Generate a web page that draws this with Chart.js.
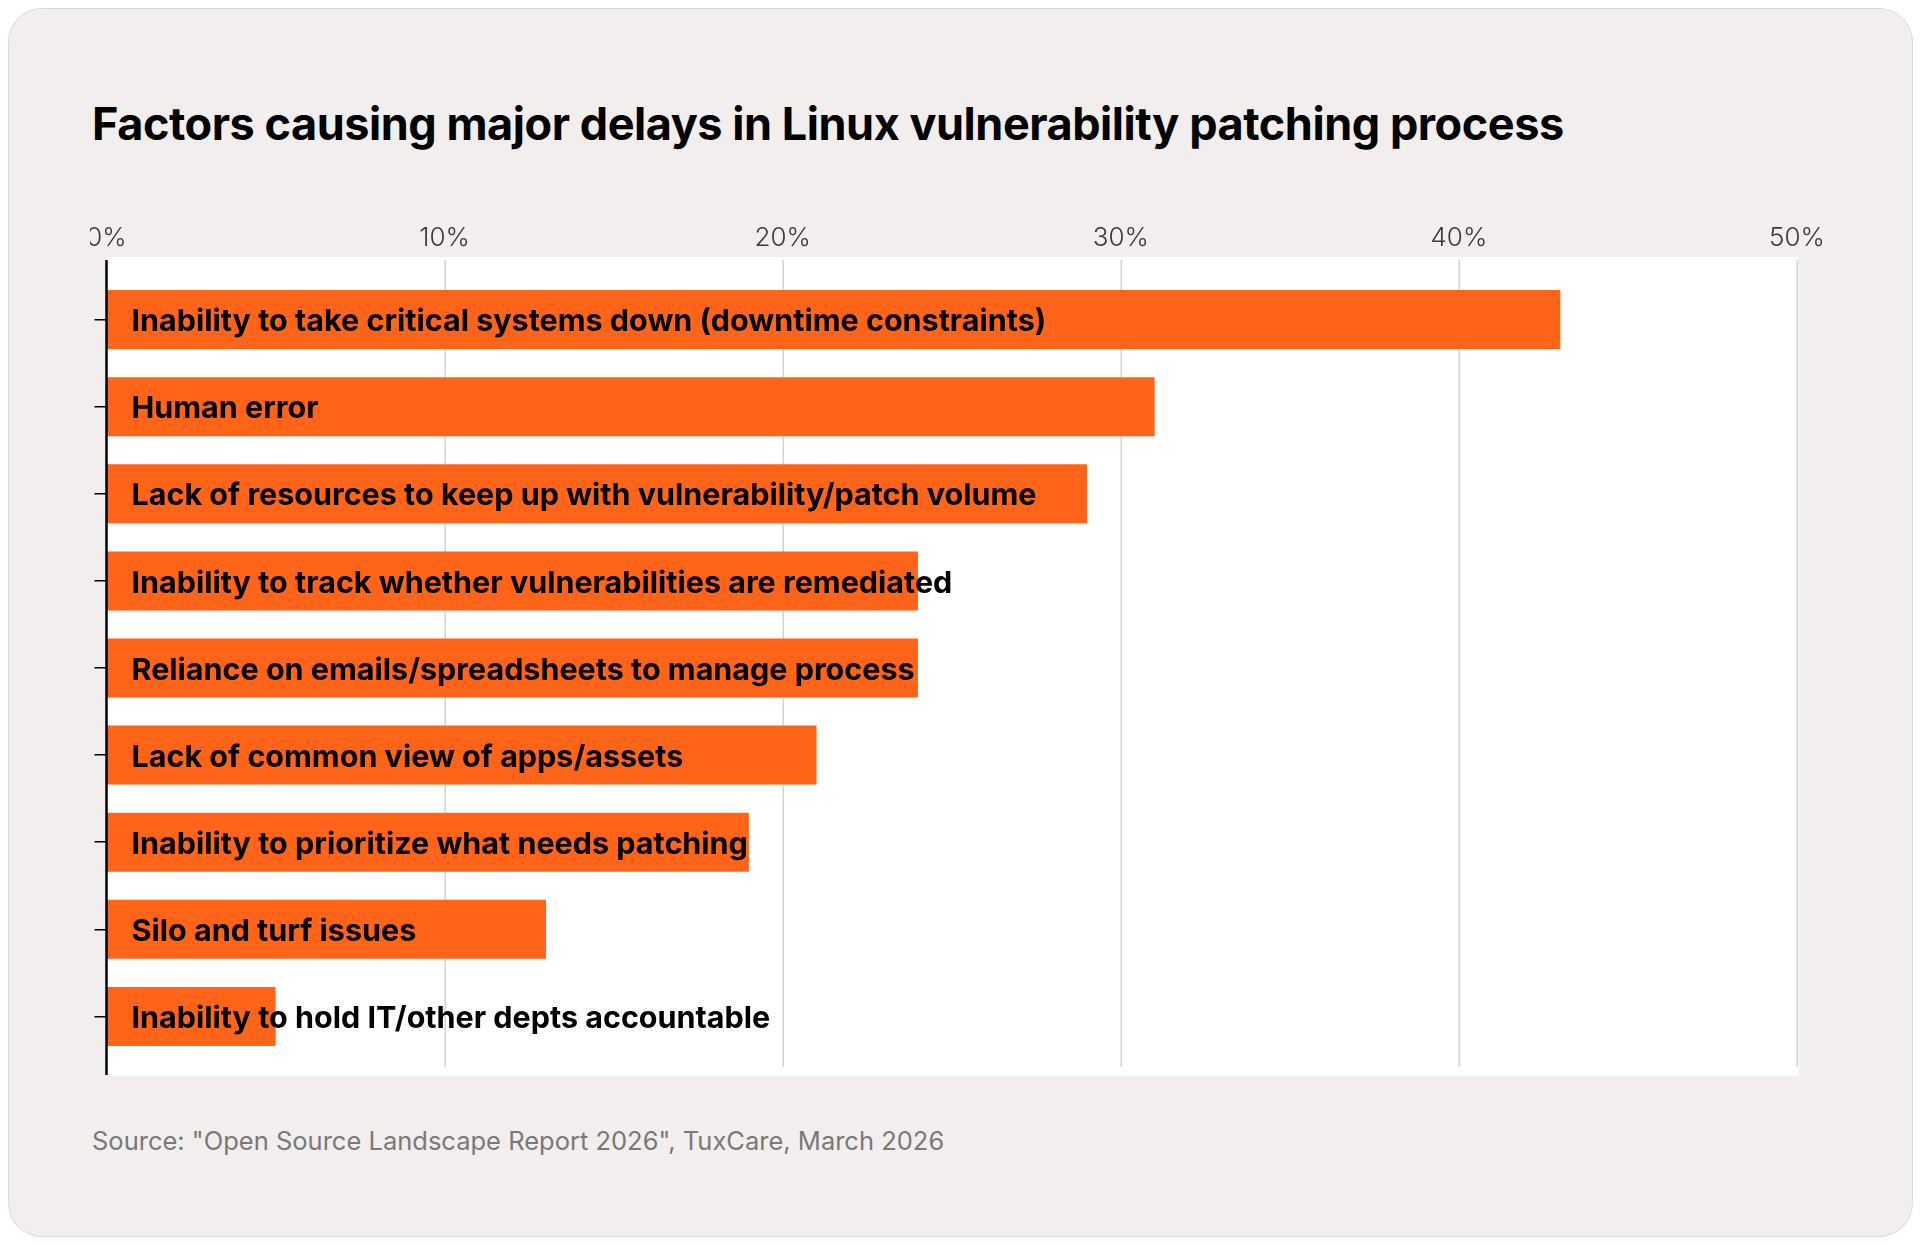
<!DOCTYPE html>
<html>
<head>
<meta charset="utf-8">
<script src="https://cdn.jsdelivr.net/npm/chart.js@4.4.1/dist/chart.umd.min.js"></script>
<style>
  html, body { margin: 0; padding: 0; background: #ffffff; width: 1922px; height: 1246px; overflow: hidden; }
  #card { position: absolute; left: 8px; top: 8px; width: 1905px; height: 1229px; box-sizing: border-box;
          background: #f1eeed; border: 1.5px solid #dcd9d9; border-radius: 34px; }
  #title { position: absolute; left: 92px; top: 101px; margin: 0; font: 700 45px Inter, sans-serif; line-height: 45px;
           color: #000; letter-spacing: -0.45px; white-space: nowrap; }
  #wrap { position: absolute; left: 90px; top: 200px; width: 1760px; height: 900px; }
  #source { position: absolute; left: 92px; top: 1128px; font: 400 25.5px Inter, sans-serif; line-height: 25.5px;
            color: #7a7878; white-space: nowrap; }
</style>
</head>
<body>
<div id="card"></div>
<h1 id="title">Factors causing major delays in Linux vulnerability patching process</h1>
<div id="wrap"><canvas id="c" width="1760" height="900"></canvas></div>
<div id="source">Source: "Open Source Landscape Report 2026", TuxCare, March 2026</div>
<script>
const categories = [
  "Inability to take critical systems down (downtime constraints)",
  "Human error",
  "Lack of resources to keep up with vulnerability/patch volume",
  "Inability to track whether vulnerabilities are remediated",
  "Reliance on emails/spreadsheets to manage process",
  "Lack of common view of apps/assets",
  "Inability to prioritize what needs patching",
  "Silo and turf issues",
  "Inability to hold IT/other depts accountable"
];
const values = [43, 31, 29, 24, 24, 21, 19, 13, 5];
const tickValues = [0, 10, 20, 30, 40, 50];
const tickLabels = ["0%", "10%", "20%", "30%", "40%", "50%"];

const framePlugin = {
  id: 'frame',
  beforeDraw(chart) {
    const { ctx, chartArea: a, scales: { x } } = chart;
    const left = x.getPixelForValue(tickValues[0]);
    const right = x.getPixelForValue(tickValues[tickValues.length - 1]);
    ctx.save();
    ctx.fillStyle = '#ffffff';
    ctx.fillRect(left, a.top - 19, right - left + 1.5, (a.bottom - a.top) + 35);
    ctx.strokeStyle = '#d5d4d4';
    ctx.lineWidth = 1.5;
    tickValues.slice(1).forEach(v => {
      const px = Math.round(x.getPixelForValue(v)) + 0.25;
      ctx.beginPath();
      ctx.moveTo(px, a.top - 16);
      ctx.lineTo(px, a.bottom + 7);
      ctx.stroke();
    });
    ctx.restore();
  },
  afterDatasetsDraw(chart) {
    const { ctx, chartArea: a, scales: { x, y } } = chart;
    const x0 = x.getPixelForValue(0);
    ctx.save();
    ctx.strokeStyle = '#000';
    ctx.lineWidth = 2.5;
    ctx.beginPath();
    ctx.moveTo(x0, a.top - 16);
    ctx.lineTo(x0, a.bottom + 15);
    ctx.stroke();
    ctx.fillStyle = '#000';
    ctx.font = '700 30.5px Inter, sans-serif';
    ctx.textBaseline = 'middle';
    ctx.textAlign = 'left';
    categories.forEach((lab, i) => {
      ctx.fillText(lab, x0 + 25, y.getPixelForValue(i) + 2.5);
    });
    ctx.restore();
  }
};

new Chart(document.getElementById('c'), {
  type: 'bar',
  data: {
    labels: categories,
    datasets: [{
      data: values,
      backgroundColor: '#ff6418',
      borderWidth: 0,
      barPercentage: 0.677,
      categoryPercentage: 1.0
    }]
  },
  options: {
    indexAxis: 'y',
    responsive: false,
    animation: false,
    devicePixelRatio: 1,
    layout: { padding: { left: 0, right: 53, top: 0, bottom: 40 } },
    plugins: { legend: { display: false }, tooltip: { enabled: false }, title: { display: false } },
    scales: {
      x: {
        type: 'linear',
        position: 'top',
        min: 0, max: 50,
        grid: { display: false, drawTicks: false },
        border: { display: false },
        afterBuildTicks(s) { s.ticks = tickValues.map(v => ({ value: v })); },
        ticks: {
          padding: 22,
          color: '#3a3a3a',
          font: { family: 'Inter, sans-serif', size: 26, weight: 300 },
          callback: (v) => tickLabels[tickValues.indexOf(v)]
        },
        afterFit(s) { s.height = 76; s.paddingLeft = 0; s.paddingRight = 0; }
      },
      y: {
        type: 'category',
        grid: { display: true, offset: false, drawOnChartArea: false, drawTicks: true, tickLength: 12, color: '#000', lineWidth: 1.5 },
        border: { display: false },
        ticks: { display: false },
        afterFit(s) { s.width = 16.5; }
      }
    }
  },
  plugins: [framePlugin]
});
</script>
</body>
</html>
